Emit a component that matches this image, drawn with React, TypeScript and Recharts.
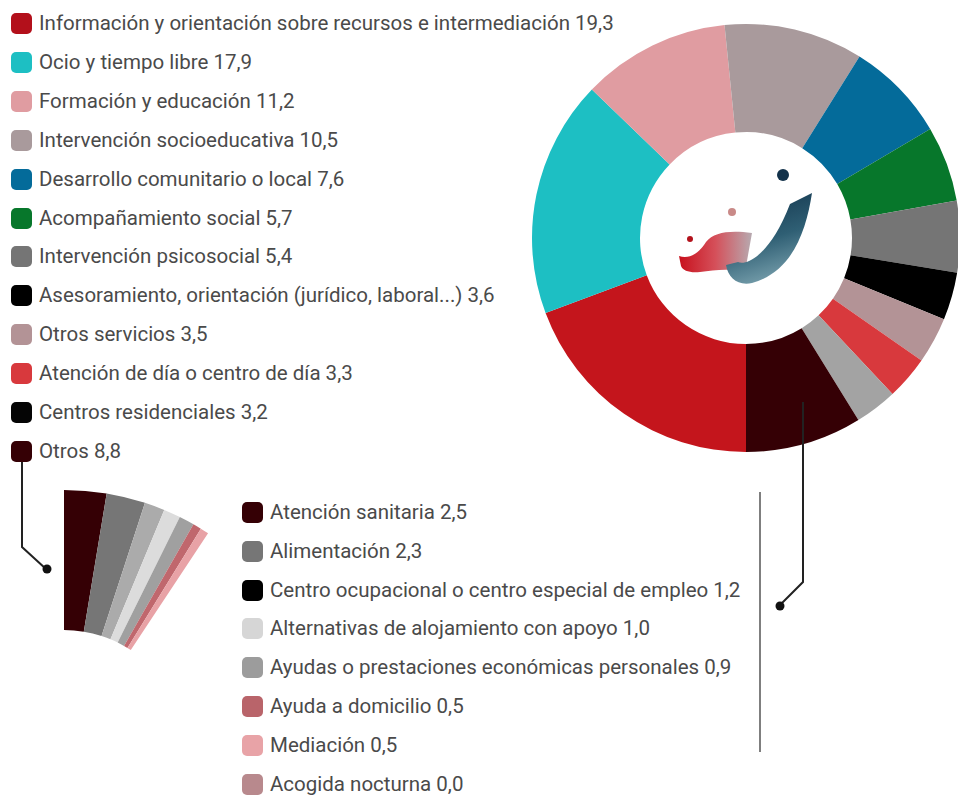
import React from 'react'
import { PieChart, Pie, Cell } from 'recharts'

// main donut: service categories (%)
const mainLabels = [
  'Información y orientación sobre recursos e intermediación',
  'Ocio y tiempo libre',
  'Formación y educación',
  'Intervención socioeducativa',
  'Desarrollo comunitario o local',
  'Acompañamiento social',
  'Intervención psicosocial',
  'Asesoramiento, orientación (jurídico, laboral...)',
  'Otros servicios',
  'Atención de día o centro de día',
  'Centros residenciales',
  'Otros',
]
const mainValues = [19.3, 17.9, 11.2, 10.5, 7.6, 5.7, 5.4, 3.6, 3.5, 3.3, 3.2, 8.8]
const mainColors = [
  '#c4151c', '#1dbfc3', '#e09ca1', '#a99a9c', '#046b9a', '#07772b',
  '#757575', '#000000', '#b39396', '#d8393d', '#a3a3a3', '#350005',
]
const mainSwatches = [
  '#b3101b', '#1dbfc3', '#e09ca1', '#a99a9c', '#046b9a', '#07772b',
  '#757575', '#000000', '#b39396', '#d8393d', '#050505', '#350005',
]

// breakdown of "Otros"
const otrosLabels = [
  'Atención sanitaria',
  'Alimentación',
  'Centro ocupacional o centro especial de empleo',
  'Alternativas de alojamiento con apoyo',
  'Ayudas o prestaciones económicas personales',
  'Ayuda a domicilio',
  'Mediación',
  'Acogida nocturna',
]
const otrosValues = [2.5, 2.3, 1.2, 1.0, 0.9, 0.5, 0.5, 0.0]
const otrosColors = [
  '#350005', '#767676', '#ababab', '#dcdcdc', '#a0a0a0', '#c0676d', '#e8a2a6', '#b8898d',
]
const otrosSwatches = [
  '#350005', '#767676', '#000000', '#d6d6d6', '#9c9c9c', '#b9646a', '#e8a3a7', '#b8898d',
]

const fmt = (v: number) => v.toFixed(1).replace('.', ',')

const mainData = mainLabels.map((name, i) => ({ name, value: mainValues[i] }))
const otrosData = otrosLabels.map((name, i) => ({ name, value: otrosValues[i] }))

const W = 958
const H = 796
const ROW = 38.9
const textStyle: React.CSSProperties = {
  fontFamily: 'Roboto, sans-serif',
  fontSize: 20.5,
  lineHeight: '21px',
  color: '#4a4a4a',
  whiteSpace: 'nowrap',
}

function LegendRow({ x, y, color, label }: { x: number; y: number; color: string; label: string }) {
  return (
    <div style={{ position: 'absolute', left: x, top: y, display: 'flex', alignItems: 'center', height: 21 }}>
      <div style={{ width: 21, height: 21, borderRadius: 5, background: color, marginRight: 7, flexShrink: 0 }} />
      <span style={textStyle}>{label}</span>
    </div>
  )
}

function Logo() {
  return (
    <g>
      <defs>
        <linearGradient id="jGrad" x1="0" y1="0" x2="0.3" y2="1">
          <stop offset="0" stopColor="#0f3048" />
          <stop offset="0.6" stopColor="#2f5f74" />
          <stop offset="1" stopColor="#6f98a6" />
        </linearGradient>
        <linearGradient id="rGrad" x1="0" y1="0" x2="1" y2="0">
          <stop offset="0" stopColor="#c8101c" />
          <stop offset="0.5" stopColor="#d5505a" />
          <stop offset="1" stopColor="#b7aab0" />
        </linearGradient>
      </defs>
      <path
        d="M679 256 C690 260 700 252 706 242 C714 232 730 230 752 233 L745 272 C730 268 714 270 700 272 C690 273 683 271 681 266 Z"
        fill="url(#rGrad)"
      />
      <path
        d="M790 204 L812 193 C806 232 792 272 752 283 C738 286 728 278 726 265 L738 262 C746 266 770 256 790 204 Z"
        fill="url(#jGrad)"
      />
      <circle cx={783} cy={175} r={6} fill="#12324a" />
      <circle cx={732} cy={212} r={4} fill="#c98a88" />
      <circle cx={690} cy={239} r={3} fill="#b3121c" />
    </g>
  )
}

export default function App() {
  return (
    <div style={{ position: 'absolute', left: 0, top: 0, width: W, height: H, background: '#fff', overflow: 'hidden' }}>
      <PieChart width={W} height={H} margin={{ top: 0, right: 0, bottom: 0, left: 0 }}>
        <Pie
          data={mainData}
          dataKey="value"
          cx={746}
          cy={238}
          innerRadius={106}
          outerRadius={214}
          startAngle={270}
          endAngle={-90}
          stroke="none"
          isAnimationActive={false}
        >
          {mainData.map((d, i) => (
            <Cell key={d.name} fill={mainColors[i]} />
          ))}
        </Pie>
        <Pie
          data={otrosData}
          dataKey="value"
          cx={64}
          cy={751}
          innerRadius={121}
          outerRadius={261}
          startAngle={90}
          endAngle={56.5}
          stroke="none"
          isAnimationActive={false}
        >
          {otrosData.map((d, i) => (
            <Cell key={d.name} fill={otrosColors[i]} />
          ))}
        </Pie>
      </PieChart>

      <svg width={W} height={H} style={{ position: 'absolute', left: 0, top: 0, pointerEvents: 'none' }}>
        <Logo />
        <polyline points="22,462 22,547 46,569" fill="none" stroke="#222" strokeWidth={2} />
        <circle cx={47} cy={569} r={4.5} fill="#111" />
        <polyline points="803,402 803,582 780,605" fill="none" stroke="#222" strokeWidth={2} />
        <circle cx={780} cy={606} r={4.5} fill="#111" />
        <line x1={760} y1={492} x2={760} y2={752} stroke="#555" strokeWidth={1.5} />
      </svg>

      {mainLabels.map((l, i) => (
        <LegendRow key={l} x={11} y={13 + i * ROW} color={mainSwatches[i]} label={`${l} ${fmt(mainValues[i])}`} />
      ))}
      {otrosLabels.map((l, i) => (
        <LegendRow key={l} x={242} y={502 + i * 38.8} color={otrosSwatches[i]} label={`${l} ${fmt(otrosValues[i])}`} />
      ))}
    </div>
  )
}
